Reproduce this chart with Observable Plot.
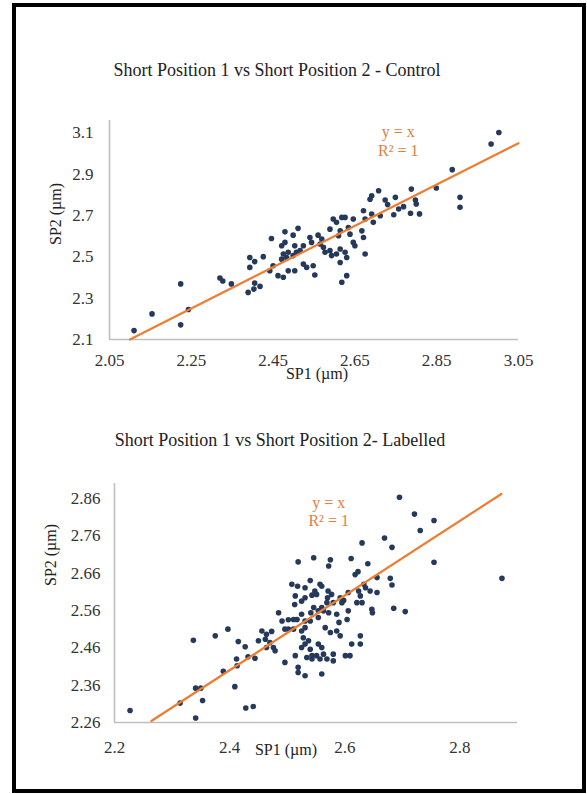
<!DOCTYPE html>
<html>
<head>
<meta charset="utf-8">
<script src="https://cdn.jsdelivr.net/npm/d3@7"></script>
<script src="https://cdn.jsdelivr.net/npm/@observablehq/plot@0.6"></script>
<style>
  html, body { margin: 0; padding: 0; background: #fff; }
  #page { position: relative; width: 587px; height: 794px; background: #fff; overflow: hidden; }
  #page, #page div, #page svg, #page svg text { font-family: "Liberation Serif", "Times New Roman", serif !important; }
  #frame { position: absolute; left: 12px; top: 3px; width: 574px; height: 790px; border: 4px solid #000; box-sizing: border-box; }
  .title { position: absolute; font-size: 18px; color: #222; text-align: center; line-height: 20px; white-space: nowrap; }
  .chart { position: absolute; left: 0; }
</style>
</head>
<body>
<div id="page">
  <div id="frame"></div>
  <div class="title" id="t1" style="left:0; width:554px; top:60px;"></div>
  <div class="title" id="t2" style="left:0; width:560px; top:430px;"></div>
  <div class="chart" id="c1" style="top:100px;"></div>
  <div class="chart" id="c2" style="top:460px;"></div>
</div>
<script>
// ---------- data ----------
const titles = ["Short Position 1 vs Short Position 2 - Control", "Short Position 1 vs Short Position 2- Labelled"];
const xLabel = "SP1 (µm)";
const yLabel = "SP2 (µm)";
const fitLabels = ["y = x", "R² = 1"];

const controlXTicks = [2.05, 2.25, 2.45, 2.65, 2.85, 3.05];
const controlYTicks = [2.1, 2.3, 2.5, 2.7, 2.9, 3.1];
const labelledXTicks = [2.2, 2.4, 2.6, 2.8];
const labelledYTicks = [2.26, 2.36, 2.46, 2.56, 2.66, 2.76, 2.86];

// fitted line y = x, endpoints in SP1
const controlFit = [2.1, 3.05];
const labelledFit = [2.264, 2.872];

const controlSP1 = [2.110,2.154,2.224,2.224,2.243,2.320,2.327,
2.446,2.442,2.450,2.462,2.475,2.471,2.479,2.475,2.483,2.471,2.487,2.479,2.499,2.511,2.503,2.507,2.499,2.516,2.524,
2.487,2.503,2.524,2.532,2.548,2.552,2.540,2.544,2.560,2.565,2.569,2.573,2.577,2.589,2.593,2.605,2.614,2.589,2.597,
2.605,2.618,2.626,2.614,2.610,2.626,2.630,2.614,2.618,2.630,2.646,2.646,2.650,2.667,2.671,2.675,2.671,2.675,2.691,
2.695,2.687,2.691,2.708,2.634,2.638,2.393,2.393,2.405,2.426,2.389,2.405,2.403,2.418,2.348,
3.002,2.983,2.888,2.907,2.907,2.849,2.788,2.798,2.800,2.786,2.808,2.769,2.757,2.745,2.749,2.730,2.724,2.712];
const controlSP2 = [2.143,2.224,2.369,2.171,2.245,2.398,2.383,
2.589,2.433,2.457,2.409,2.401,2.554,2.570,2.514,2.497,2.489,2.522,2.621,2.605,2.638,2.554,2.522,2.506,2.530,2.554,
2.433,2.433,2.465,2.449,2.457,2.412,2.594,2.570,2.605,2.562,2.586,2.546,2.522,2.530,2.506,2.514,2.538,2.634,2.683,
2.667,2.691,2.691,2.626,2.602,2.522,2.497,2.473,2.377,2.409,2.683,2.570,2.554,2.626,2.594,2.514,2.723,2.683,2.707,
2.667,2.779,2.795,2.820,2.642,2.610,2.497,2.449,2.477,2.501,2.328,2.373,2.344,2.357,2.369,
3.102,3.046,2.922,2.788,2.740,2.833,2.828,2.775,2.756,2.711,2.708,2.743,2.732,2.704,2.788,2.753,2.775,2.699];

const labelledSP1 = [2.227,2.314,2.337,2.341,2.341,2.350,2.353,2.375,2.389,2.397,2.409,2.412,2.413,2.415,2.427,2.428,2.432,2.441,2.519,2.531,
2.630,2.546,2.519,2.575,2.572,2.611,2.640,2.618,2.623,2.656,
2.508,2.518,2.531,2.540,2.557,2.560,
2.548,2.551,2.543,2.531,2.514,2.525,2.513,
2.571,2.570,2.577,2.580,2.569,2.560,2.554,2.563,
2.592,2.598,2.595,2.606,
2.624,2.627,2.633,2.636,2.644,2.630,2.621,2.647,2.648,2.656,
2.606,2.604,2.586,2.590,
2.485,2.491,2.502,2.511,2.517,2.525,2.531,2.540,2.496,2.502,
2.546,2.541,2.554,2.572,
2.456,2.464,2.473,2.462,2.470,2.476,2.464,2.450,2.444,2.479,
2.511,2.525,2.531,
2.528,2.537,2.531,2.525,2.540,2.554,2.560,2.563,2.551,2.543,2.534,
2.566,2.575,2.586,2.592,
2.514,2.496,2.519,2.543,2.557,2.569,2.580,2.580,2.601,2.609,2.612,2.627,2.627,
2.695,2.721,2.731,2.755,2.755,2.873,2.669,2.682,2.679,2.682,2.685,2.705,2.560];
const labelledSP2 = [2.292,2.312,2.480,2.272,2.352,2.352,2.319,2.492,2.397,2.510,2.356,2.430,2.412,2.477,2.463,2.299,2.436,2.303,2.394,2.385,
2.741,2.701,2.690,2.696,2.679,2.699,2.685,2.656,2.664,2.648,
2.630,2.625,2.621,2.640,2.630,2.625,
2.612,2.603,2.601,2.594,2.599,2.585,2.576,
2.612,2.594,2.603,2.581,2.581,2.568,2.559,2.559,
2.594,2.587,2.581,2.608,
2.612,2.599,2.630,2.621,2.612,2.581,2.581,2.563,2.554,2.608,
2.559,2.536,2.550,2.528,
2.554,2.532,2.535,2.536,2.536,2.550,2.532,2.532,2.510,2.510,
2.568,2.554,2.541,2.554,
2.505,2.496,2.504,2.483,2.474,2.461,2.461,2.479,2.432,2.452,
2.510,2.505,2.514,
2.487,2.479,2.470,2.461,2.456,2.470,2.461,2.443,2.439,2.439,2.434,
2.514,2.501,2.505,2.492,
2.439,2.421,2.408,2.430,2.430,2.430,2.443,2.425,2.439,2.439,2.470,2.470,2.492,
2.863,2.818,2.774,2.801,2.689,2.646,2.754,2.729,2.646,2.628,2.566,2.557,2.390];

// ---------- styling ----------
const dotColor = "#25395a";
const fitColor = "#ED7D31";
const textColor = "#E0803F";
const axisColor = "#bfbfbf";
const font = "Liberation Serif";

document.getElementById("t1").textContent = titles[0];
document.getElementById("t2").textContent = titles[1];

function scatter(cfg) {
  const pts = cfg.xs.map((x, i) => ({x, y: cfg.ys[i]}));
  return Plot.plot({
    width: 587,
    height: cfg.height,
    marginTop: cfg.mt, marginBottom: cfg.mb, marginLeft: cfg.ml, marginRight: cfg.mr,
    style: {fontFamily: font, fontSize: "17px", color: "#333", background: "transparent", overflow: "visible"},
    x: {domain: cfg.xDomain},
    y: {domain: cfg.yDomain},
    marks: [
      Plot.ruleX([cfg.xDomain[0]], {stroke: axisColor, strokeWidth: 1.6}),
      Plot.ruleY([cfg.yDomain[0]], {stroke: axisColor, strokeWidth: 1.6}),
      Plot.axisX({ticks: cfg.xTicks, tickSize: 0, tickPadding: cfg.xPad, tickFormat: d3.format(cfg.xFmt), label: null, fontSize: 17, fontFamily: font, fill: "#333"}),
      Plot.axisY({ticks: cfg.yTicks, tickSize: 0, tickPadding: cfg.yPad, tickFormat: d3.format(cfg.yFmt), label: null, fontSize: 17, fontFamily: font, fill: "#333"}),
      Plot.text([xLabel], {frameAnchor: "bottom", dx: cfg.xlDx, dy: cfg.xlDy, fontSize: 16, fontFamily: font, fill: "#222"}),
      Plot.text([yLabel], {frameAnchor: "left", rotate: -90, dx: cfg.ylDx, dy: cfg.ylDy, fontSize: 16, fontFamily: font, fill: "#222"}),
      Plot.dot(pts, {x: "x", y: "y", r: 2.8, fill: dotColor, stroke: "none"}),
      Plot.line(cfg.fit, {x: d => d, y: d => d, stroke: fitColor, strokeWidth: 2.2}),
      Plot.text([fitLabels[0]], {x: cfg.ann[0], y: cfg.ann[1], fill: textColor, fontSize: 16, fontFamily: font}),
      Plot.text([fitLabels[1]], {x: cfg.ann[0], y: cfg.ann[2], fill: textColor, fontSize: 16, fontFamily: font})
    ]
  });
}

document.getElementById("c1").appendChild(scatter({
  xs: controlSP1, ys: controlSP2, height: 300,
  mt: 20, mb: 61, ml: 109, mr: 69,
  xDomain: [2.05, 3.05], yDomain: [2.1, 3.16],
  xTicks: controlXTicks, yTicks: controlYTicks, xFmt: ".2f", yFmt: ".1f",
  xPad: 14, yPad: 16,
  xlDx: 3, xlDy: 39, ylDx: -54, ylDy: 15,
  fit: controlFit, ann: [2.756, 3.105, 3.013]
}));

document.getElementById("c2").appendChild(scatter({
  xs: labelledSP1, ys: labelledSP2, height: 320,
  mt: 23, mb: 58, ml: 114, mr: 70,
  xDomain: [2.2, 2.9], yDomain: [2.26, 2.90],
  xTicks: labelledXTicks, yTicks: labelledYTicks, xFmt: ".1f", yFmt: ".2f",
  xPad: 18, yPad: 14,
  xlDx: -30, xlDy: 32, ylDx: -64, ylDy: -17,
  fit: labelledFit, ann: [2.572, 2.849, 2.799]
}));
</script>
</body>
</html>
